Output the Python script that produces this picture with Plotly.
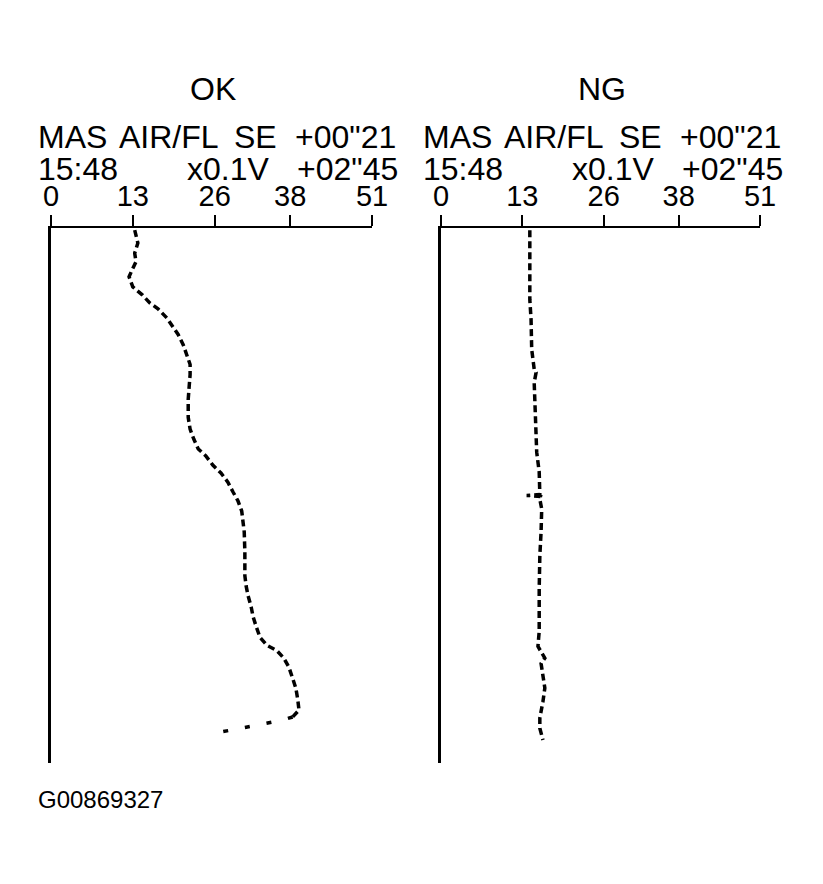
import plotly.graph_objects as go

W, H = 823, 884

# ---- data ----
ok_t = [0.4, 2.8, 4.7, 6.3, 7.8, 9.1, 11.0, 12.5, 14.0, 15.1, 16.8, 18.2, 19.9, 21.8,
        23.6, 25.5, 27.4, 29.6, 32.0, 35.4, 37.6, 39.5, 41.3, 42.6, 44.3, 45.8, 47.5,
        49.3, 51.0, 52.9, 54.9, 56.8, 60.5, 65.0, 66.9, 68.7, 70.8, 72.6, 74.5, 76.5,
        78.0, 79.0, 80.4, 82.1, 84.2, 86.0, 88.1, 90.1, 91.4]
ok_v = [13.3, 13.8, 13.3, 13.5, 12.9, 12.4, 13.0, 14.5, 15.7, 17.0, 18.4, 19.2, 20.2, 21.0,
        21.6, 22.1, 22.1, 21.9, 21.8, 21.8, 22.1, 22.7, 23.4, 24.6, 25.7, 27.0, 28.1,
        28.9, 29.7, 30.3, 30.5, 30.7, 30.8, 30.8, 31.0, 31.3, 31.8, 32.1, 32.6, 33.2,
        34.3, 35.9, 37.0, 37.8, 38.4, 38.9, 39.2, 39.4, 38.4]
ok_tail_t = [91.4, 92.0, 92.9, 93.7, 94.4]
ok_tail_v = [38.4, 36.7, 32.9, 29.6, 26.1]

ng_t = [0.4, 13.4, 17.1, 22.7, 26.4, 27.0, 28.9, 33.3, 38.9, 41.9, 45.6, 48.8, 49.8, 50.0,
        50.2, 50.7, 52.5, 56.8, 61.3, 67.4, 72.4, 75.4, 78.2, 80.4, 81.4, 84.2, 86.0,
        88.5, 91.6, 93.5, 95.7]
ng_v = [14.2, 14.2, 14.4, 14.5, 14.9, 15.2, 14.9, 15.0, 15.2, 15.3, 15.7, 15.8, 15.8, 13.7,
        15.9, 15.8, 16.1, 16.0, 15.8, 15.7, 15.7, 15.7, 15.5, 16.6, 16.0, 16.3, 16.6,
        16.3, 15.8, 15.8, 16.3]

tick_vals = [0, 13, 26, 38, 51]
tick_text = ["0", "13", "26", "38", "51"]
panel_titles = ["OK", "NG"]
header_words = ["MAS", "AIR/FL", "SE", "+00\"21"]
header_line2 = ["15:48", "x0.1V", "+02\"45"]
figure_id = "G00869327"

FONT = "Liberation Sans, Arial, Helvetica, sans-serif"
line_style = dict(color="black", width=3.5, dash="7px,4px")

fig = go.Figure()
fig.add_trace(go.Scatter(x=ok_v, y=ok_t, mode="lines", line=line_style,
                         xaxis="x", yaxis="y", showlegend=False))
fig.add_trace(go.Scatter(x=ok_tail_v, y=ok_tail_t, mode="lines",
                         line=dict(color="black", width=3.5, dash="5px,17px"),
                         xaxis="x", yaxis="y", showlegend=False))
fig.add_trace(go.Scatter(x=ng_v, y=ng_t, mode="lines", line=line_style,
                         xaxis="x2", yaxis="y2", showlegend=False))

def px(x):
    return x / W

def py(y):
    return 1 - y / H

y_dom = [py(763), py(228)]
xaxis_common = dict(range=[0, 51], side="top", showline=True, linecolor="black",
                    linewidth=2, ticks="outside", ticklen=11, tickwidth=2,
                    tickcolor="black", tickvals=tick_vals, ticktext=tick_text,
                    tickfont=dict(family=FONT, size=29, color="black"),
                    showgrid=False, zeroline=False, fixedrange=True,
                    ticklabelstandoff=-3, automargin=False)
yaxis_common = dict(range=[100, 0], domain=y_dom, showline=True, linecolor="black",
                    linewidth=3, showticklabels=False, ticks="", showgrid=False,
                    zeroline=False, fixedrange=True, automargin=False)

fig.update_layout(
    width=W, height=H, autosize=False,
    margin=dict(l=0, r=0, t=0, b=0, pad=0, autoexpand=False),
    paper_bgcolor="white", plot_bgcolor="white",
    xaxis=dict(domain=[px(51), px(372)], anchor="y", **xaxis_common),
    xaxis2=dict(domain=[px(441), px(760)], anchor="y2", **xaxis_common),
    yaxis=dict(anchor="x", **yaxis_common),
    yaxis2=dict(anchor="x2", **yaxis_common),
)

anns = []
def txt(s, x, y, anchor="left", size=32):
    anns.append(dict(text=s, x=px(x), y=py(y), xref="paper", yref="paper",
                     xanchor=anchor, yanchor="middle", showarrow=False,
                     borderpad=0,
                     font=dict(family=FONT, size=size, color="black")))

title_x = [213, 602]
for i, off in enumerate([0, 385]):
    txt(panel_titles[i], title_x[i], 89, "center")
    txt(header_words[0], 37 + off, 137)
    txt(header_words[1], 118 + off, 137)
    txt(header_words[2], 233 + off, 137)
    txt(header_words[3], 397 + off, 137, "right")
    txt(header_line2[0], 37 + off, 169)
    txt(header_line2[1], 228 + off, 169, "center")
    txt(header_line2[2], 399 + off, 169, "right")

txt(figure_id, 37, 799, "left", 24)
fig.update_layout(annotations=anns)

fig.write_html("out.html",
               config={"displayModeBar": False},
               post_script="document.body.style.margin='0';document.body.style.overflow='hidden';")
